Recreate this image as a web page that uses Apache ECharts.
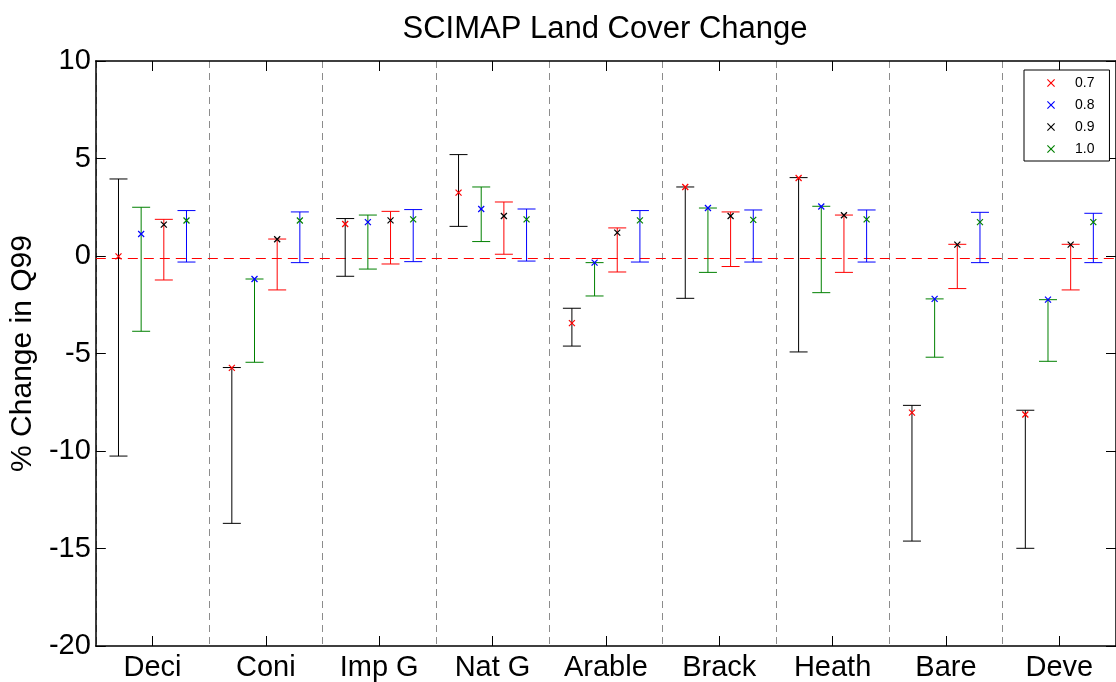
<!DOCTYPE html>
<html>
<head>
<meta charset="utf-8">
<script src="https://cdn.jsdelivr.net/npm/echarts@6/dist/echarts.min.js"></script>
<style>
html,body{margin:0;padding:0;background:#fff;}
#chart{width:1116px;height:682px;}
</style>
</head>
<body>
<div id="chart"></div>
<script>
const categories = ['Deci', 'Coni', 'Imp G', 'Nat G', 'Arable', 'Brack', 'Heath', 'Bare', 'Deve'];
const yTicks = [-20, -15, -10, -5, 0, 5, 10];
const seriesNames = ['0.7', '0.8', '0.9', '1.0'];

// value at marker, lower and upper error bar ends
const mid07 = [-0.02, -5.74, 1.64, 3.25, -3.44, 3.54, 4.00, -8.03, -8.13];
const low07 = [-10.26, -13.71, -1.04, 1.52, -4.62, -2.17, -4.92, -14.62, -14.99];
const high07 = [3.95, -5.72, 1.92, 5.20, -2.68, 3.54, 4.02, -7.66, -7.91];

const mid08 = [1.13, -1.18, 1.74, 2.41, -0.34, 2.46, 2.54, -2.20, -2.24];
const low08 = [-3.86, -5.45, -0.67, 0.74, -2.05, -0.84, -1.88, -5.19, -5.40];
const high08 = [2.50, -1.18, 2.10, 3.54, -0.34, 2.46, 2.55, -2.20, -2.24];

const mid09 = [1.61, 0.86, 1.83, 2.05, 1.20, 2.05, 2.09, 0.58, 0.58];
const low09 = [-1.23, -1.74, -0.41, 0.09, -0.82, -0.54, -0.84, -1.67, -1.74];
const high09 = [1.88, 0.87, 2.29, 2.77, 1.44, 2.26, 2.10, 0.60, 0.60];

const mid10 = [1.82, 1.82, 1.88, 1.88, 1.83, 1.85, 1.88, 1.74, 1.74];
const low10 = [-0.31, -0.34, -0.29, -0.26, -0.31, -0.31, -0.31, -0.34, -0.34];
const high10 = [2.33, 2.26, 2.38, 2.41, 2.33, 2.36, 2.36, 2.24, 2.19];

const refLine = -0.13;

const markerColors = ['#ff0000', '#0000ff', '#000000', '#008000'];
const barColors = ['#000000', '#008000', '#ff0000', '#0000ff'];
const offsets = [-0.3, -0.1, 0.1, 0.3];
const seriesData = [
  [mid07, low07, high07],
  [mid08, low08, high08],
  [mid09, low09, high09],
  [mid10, low10, high10]
];

const FONT = "'Liberation Sans', Arial, Helvetica, sans-serif";
const xIcon = 'path://M0,1 L1,0 L5,4 L9,0 L10,1 L6,5 L10,9 L9,10 L5,6 L1,10 L0,9 L4,5 Z';

function makeRender(si) {
  return function (params, api) {
    const ci = api.value(0);
    const pl = api.coord([ci, api.value(1)]);
    const ph = api.coord([ci, api.value(2)]);
    const pm = api.coord([ci, api.value(3)]);
    const bw = api.size([1, 0])[0];
    const x = pl[0] + offsets[si] * bw;
    const cap = 9;
    const m = 3;
    const bs = {stroke: barColors[si], lineWidth: 1};
    const ms = {stroke: markerColors[si], lineWidth: 1.2};
    return {
      type: 'group',
      children: [
        {type: 'line', shape: {x1: x, y1: ph[1], x2: x, y2: pl[1]}, style: bs},
        {type: 'line', shape: {x1: x - cap, y1: ph[1], x2: x + cap, y2: ph[1]}, style: bs},
        {type: 'line', shape: {x1: x - cap, y1: pl[1], x2: x + cap, y2: pl[1]}, style: bs},
        {type: 'line', shape: {x1: x - m, y1: pm[1] - m, x2: x + m, y2: pm[1] + m}, style: ms},
        {type: 'line', shape: {x1: x - m, y1: pm[1] + m, x2: x + m, y2: pm[1] - m}, style: ms}
      ]
    };
  };
}

const series = seriesNames.map(function (name, si) {
  const d = seriesData[si];
  const s = {
    name: name,
    type: 'custom',
    itemStyle: {color: markerColors[si]},
    renderItem: makeRender(si),
    encode: {x: 0, y: [1, 2, 3]},
    data: categories.map(function (c, i) { return [i, d[1][i], d[2][i], d[0][i]]; }),
    z: 3
  };
  if (si === 0) {
    s.markLine = {
      silent: true,
      symbol: ['none', 'none'],
      label: {show: false},
      lineStyle: {color: '#ff0000', type: [10, 6], width: 1},
      data: [{yAxis: refLine}],
      z: 2
    };
  }
  return s;
});

const chart = echarts.init(document.getElementById('chart'), null, {renderer: 'canvas'});
chart.setOption({
  animation: false,
  backgroundColor: '#ffffff',
  textStyle: {fontFamily: FONT},
  title: {
    text: 'SCIMAP Land Cover Change',
    left: 600,
    textAlign: 'center',
    top: 9,
    textStyle: {fontFamily: FONT, fontSize: 31, fontWeight: 'normal', color: '#000'}
  },
  legend: {
    orient: 'vertical',
    left: 1024,
    top: 70,
    padding: [6, 15, 5, 23],
    itemWidth: 8,
    itemHeight: 8,
    itemGap: 8,
    borderColor: '#000',
    borderWidth: 1,
    backgroundColor: '#fff',
    textStyle: {fontFamily: FONT, fontSize: 14, color: '#000', padding: [0, 0, 0, 15]},
    data: seriesNames.map(function (n, i) {
      return {name: n, icon: xIcon, itemStyle: {color: markerColors[i]}};
    })
  },
  grid: {left: 94, top: 61, width: 1024, height: 585, containLabel: false},
  xAxis: [
    {
      type: 'category',
      data: categories,
      position: 'bottom',
      boundaryGap: true,
      axisLine: {show: true, onZero: false, lineStyle: {color: '#000', width: 1.5}},
      axisTick: {show: true, inside: true, length: 10, alignWithLabel: true, lineStyle: {color: '#000'}},
      axisLabel: {fontFamily: FONT, fontSize: 29, color: '#000', margin: 7},
      splitLine: {show: true, lineStyle: {color: '#8c8c8c', type: [7, 5], width: 1}}
    },
    {
      type: 'category',
      data: categories,
      position: 'top',
      boundaryGap: true,
      axisLine: {show: true, onZero: false, lineStyle: {color: '#000', width: 1.5}},
      axisTick: {show: true, inside: true, length: 10, alignWithLabel: true, lineStyle: {color: '#000'}},
      axisLabel: {show: false},
      splitLine: {show: false}
    }
  ],
  yAxis: [
    {
      type: 'value',
      min: -20,
      max: 10,
      interval: 5,
      position: 'left',
      name: '% Change in Q99',
      nameLocation: 'middle',
      nameRotate: 90,
      nameGap: 57,
      nameTextStyle: {fontFamily: FONT, fontSize: 30, color: '#000'},
      axisLine: {show: true, onZero: false, lineStyle: {color: '#000', width: 1.5}},
      axisTick: {show: true, inside: true, length: 10, lineStyle: {color: '#000'}},
      axisLabel: {fontFamily: FONT, fontSize: 29, color: '#000', margin: 5,
        formatter: function (v) { return yTicks.indexOf(v) >= 0 ? String(v) : ''; }},
      splitLine: {show: false}
    },
    {
      type: 'value',
      min: -20,
      max: 10,
      interval: 5,
      position: 'right',
      axisLine: {show: true, onZero: false, lineStyle: {color: '#000', width: 1.5}},
      axisTick: {show: true, inside: true, length: 10, lineStyle: {color: '#000'}},
      axisLabel: {show: false},
      splitLine: {show: false}
    }
  ],
  series: series
});
</script>
</body>
</html>
